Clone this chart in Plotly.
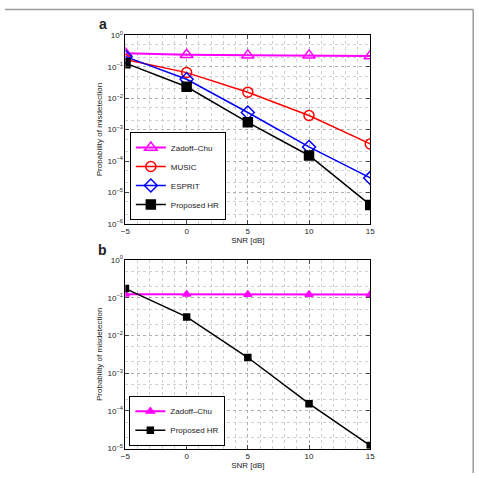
import plotly.graph_objects as go

snr = [-5, 0, 5, 10, 15]

# Panel a
zc_a = [0.27, 0.24, 0.23, 0.23, 0.22]
music_a = [0.17, 0.065, 0.0155, 0.0028, 0.00035]
esprit_a = [0.21, 0.040, 0.0035, 0.00028, 0.000029]
prop_a = [0.13, 0.023, 0.0017, 0.00015, 0.000004]

# Panel b
zc_b = [0.123, 0.123, 0.122, 0.122, 0.122]
prop_b = [0.175, 0.031, 0.0026, 0.000155, 0.000012]

x_ticks = [-5, 0, 5, 10, 15]
ya_exps = [0, -1, -2, -3, -4, -5, -6]
yb_exps = [0, -1, -2, -3, -4, -5]

W, H = 479, 478
FONT = "Liberation Sans, Arial, sans-serif"

def px_x(p):
    return p / W

def px_y(p):
    return 1 - p / H

fig = go.Figure()

def add(x, y, name, color, symbol, size, xa, ya, legend, lw=1.5, mlw=1.5):
    fig.add_trace(go.Scatter(
        x=x, y=y, name=name, mode="lines+markers",
        line=dict(color=color, width=lw),
        marker=dict(symbol=symbol, size=size, color=color,
                    line=dict(color=color, width=mlw)),
        xaxis=xa, yaxis=ya, legend=legend))

add(snr, zc_a, "Zadoff\u2013Chu", "#ff00ff", "triangle-up-open", 11, "x", "y", "legend", lw=2)
add(snr, music_a, "MUSIC", "#ff0000", "circle-open", 10, "x", "y", "legend")
add(snr, esprit_a, "ESPRIT", "#0000ff", "diamond-open", 10, "x", "y", "legend")
add(snr, prop_a, "Proposed HR", "#000000", "square", 9, "x", "y", "legend")

add(snr, zc_b, "Zadoff\u2013Chu", "#ff00ff", "triangle-up", 7, "x2", "y2", "legend2", lw=2)
add(snr, prop_b, "Proposed HR", "#000000", "square", 6, "x2", "y2", "legend2")

xdom = [px_x(123), px_x(373)]
common_x = dict(
    range=[-5, 15], tickvals=x_ticks, ticks="inside", ticklen=4,
    showline=True, linecolor="black", linewidth=1, mirror="ticks",
    showgrid=True, gridcolor="#b0b0b0", griddash="dot", gridwidth=1,
    zeroline=False, tickfont=dict(size=8, family=FONT, color="#222"),
    minor=dict(dtick=1, showgrid=True, gridcolor="#d0d0d0", griddash="dot", ticks=""),
    title=dict(text="SNR [dB]", font=dict(size=8, family=FONT, color="#222"), standoff=0),
    domain=xdom,
)

def ycfg(exps, dom):
    return dict(
        type="log", range=[min(exps), max(exps)],
        tickvals=[10 ** e for e in exps],
        ticktext=["10<sup>%s</sup>" % (str(e).replace("-", "\u2212")) for e in exps],
        ticks="inside", ticklen=4,
        showline=True, linecolor="black", linewidth=1, mirror="ticks",
        showgrid=True, gridcolor="#b0b0b0", griddash="dot", gridwidth=1,
        zeroline=False, tickfont=dict(size=8, family=FONT, color="#222"),
        minor=dict(showgrid=True, gridcolor="#d0d0d0", griddash="dot", ticks=""),
        title=dict(text="Probability of misdetection", font=dict(size=8, family=FONT, color="#222"), standoff=3),
        domain=dom,
    )

fig.update_layout(
    width=W, height=H, margin=dict(l=0, r=0, t=0, b=0),
    paper_bgcolor="white", plot_bgcolor="white",
    font=dict(family=FONT, size=8, color="#222"),
    xaxis=dict(common_x, anchor="y"),
    yaxis=ycfg(ya_exps, [px_y(223), px_y(30)]) | dict(anchor="x"),
    xaxis2=dict(common_x, anchor="y2"),
    yaxis2=ycfg(yb_exps, [px_y(453), px_y(260)]) | dict(anchor="x2"),
    legend=dict(x=px_x(127.5), y=px_y(219), xanchor="left", yanchor="bottom",
                bordercolor="black", borderwidth=1, bgcolor="white",
                font=dict(size=8, family=FONT, color="#222"), tracegroupgap=0,
                itemwidth=30),
    legend2=dict(x=px_x(127), y=px_y(450), xanchor="left", yanchor="bottom",
                 bordercolor="black", borderwidth=1, bgcolor="white",
                 font=dict(size=8, family=FONT, color="#222"), tracegroupgap=0,
                 itemwidth=30),
    showlegend=True,
)

fig.add_annotation(x=px_x(100), y=px_y(18), xref="paper", yref="paper",
                   xanchor="center", yanchor="middle",
                   text="<b>a</b>", showarrow=False, font=dict(size=14, family=FONT, color="#222"))
fig.add_annotation(x=px_x(100), y=px_y(250), xref="paper", yref="paper",
                   xanchor="center", yanchor="middle",
                   text="<b>b</b>", showarrow=False, font=dict(size=14, family=FONT, color="#222"))

# gray outer frame (top and right edges)
fig.add_shape(type="line", xref="paper", yref="paper", x0=0, x1=px_x(478.5),
              y0=px_y(3.5), y1=px_y(3.5), line=dict(color="#9a9a9a", width=1.5))
fig.add_shape(type="line", xref="paper", yref="paper", x0=px_x(478.2), x1=px_x(478.2),
              y0=px_y(3.5), y1=0, line=dict(color="#9a9a9a", width=1.5))

fig.write_html("out.html")
